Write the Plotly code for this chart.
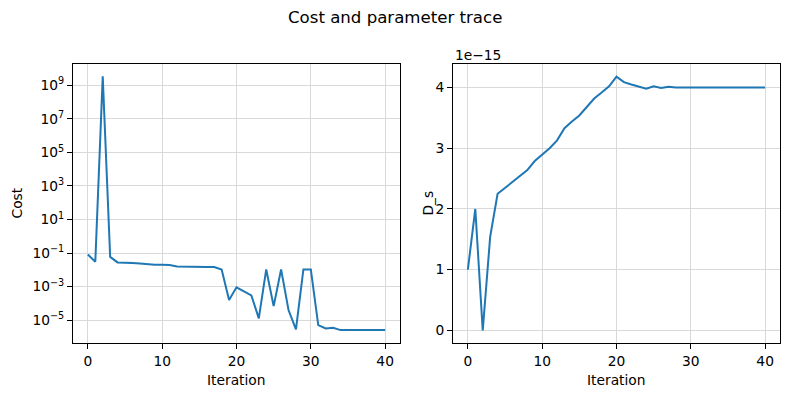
import plotly.graph_objects as go

iterations = list(range(41))
cost_log10 = [-1.09, -1.52, 9.54, -1.23, -1.56, -1.60, -1.60, -1.62, -1.68, -1.70,
              -1.70, -1.72, -1.80, -1.82, -1.84, -1.84, -1.84, -1.84, -1.98, -3.81,
              -3.05, -3.29, -3.53, -4.90, -1.98, -4.17, -1.98, -4.40, -5.56, -1.98,
              -1.98, -5.30, -5.50, -5.46, -5.60, -5.60, -5.60, -5.60, -5.60, -5.60,
              -5.60]
cost = [10 ** v for v in cost_log10]
ds_scale = 1e-15
ds_scaled = [1.00, 2.00, 0.00, 1.54, 2.25, 2.35, 2.45, 2.54, 2.64, 2.79,
             2.90, 3.00, 3.13, 3.33, 3.44, 3.54, 3.68, 3.82, 3.92, 4.02,
             4.18, 4.09, 4.05, 4.01, 3.98, 4.02, 3.995, 4.015, 4.00, 4.00,
             4.00, 4.00, 4.00, 4.00, 4.00, 4.00, 4.00, 4.00, 4.00, 4.00,
             4.00]
ds_values = [v * ds_scale for v in ds_scaled]

log_ticks = [-5, -3, -1, 1, 3, 5, 7, 9]
log_ticktext = ["10<sup>%s</sup>" % (str(t).replace("-", "\u2212")) for t in log_ticks]
xticks = [0, 10, 20, 30, 40]
ds_ticks = [0, 1, 2, 3, 4]

W, H = 789, 396
FONT = "DejaVu Sans"
BLUE = "#1f77b4"
GRID = "#d9d9d9"
TICK_SIZE = 13.8
TITLE_SIZE = 16.6

fig = go.Figure()
fig.add_trace(go.Scatter(x=iterations, y=cost, mode="lines",
                         line=dict(color=BLUE, width=2), xaxis="x", yaxis="y",
                         showlegend=False))
fig.add_trace(go.Scatter(x=iterations, y=[v / ds_scale for v in ds_values], mode="lines",
                         line=dict(color=BLUE, width=2), xaxis="x2", yaxis="y2",
                         showlegend=False))

axis_common = dict(showline=True, linecolor="black", linewidth=1, mirror=True,
                   ticks="outside", ticklen=5, tickcolor="black", tickwidth=1,
                   showgrid=True, gridcolor=GRID, gridwidth=1, zeroline=False,
                   tickfont=dict(family=FONT, size=TICK_SIZE, color="black"),
                   automargin=False)

xl0, xl1 = 73 / W, 400 / W
xr0, xr1 = 453 / W, 780 / W
yb, yt = 1 - 343 / H, 1 - 64 / H

fig.update_layout(
    width=W, height=H,
    margin=dict(l=0, r=0, t=0, b=0),
    paper_bgcolor="white", plot_bgcolor="white",
    font=dict(family=FONT, color="black"),
    xaxis=dict(domain=[xl0, xl1], range=[-2, 42], tickvals=xticks, anchor="y", **axis_common),
    yaxis=dict(domain=[yb, yt], type="log", range=[-6.37, 10.28],
               tickvals=[10 ** t for t in log_ticks], ticktext=log_ticktext,
               anchor="x", **axis_common),
    xaxis2=dict(domain=[xr0, xr1], range=[-2, 42], tickvals=xticks, anchor="y2", **axis_common),
    yaxis2=dict(domain=[yb, yt], range=[-0.209, 4.389], tickvals=ds_ticks,
                anchor="x2", **axis_common),
    annotations=[
        dict(text="Cost and parameter trace", x=0.5, y=1 - 18 / H, xref="paper", yref="paper",
             showarrow=False, xanchor="center", yanchor="middle",
             font=dict(family=FONT, size=TITLE_SIZE, color="black")),
        dict(text="Iteration", x=(xl0 + xl1) / 2, y=1 - 380 / H, xref="paper", yref="paper",
             showarrow=False, xanchor="center", yanchor="middle",
             font=dict(family=FONT, size=TICK_SIZE, color="black")),
        dict(text="Iteration", x=(xr0 + xr1) / 2, y=1 - 380 / H, xref="paper", yref="paper",
             showarrow=False, xanchor="center", yanchor="middle",
             font=dict(family=FONT, size=TICK_SIZE, color="black")),
        dict(text="Cost", x=17 / W, y=(yb + yt) / 2, xref="paper", yref="paper",
             showarrow=False, xanchor="center", yanchor="middle", textangle=-90,
             font=dict(family=FONT, size=TICK_SIZE, color="black")),
        dict(text="D_s", x=428 / W, y=(yb + yt) / 2, xref="paper", yref="paper",
             showarrow=False, xanchor="center", yanchor="middle", textangle=-90,
             font=dict(family=FONT, size=TICK_SIZE, color="black")),
        dict(text="1e\u221215", x=xr0, y=1 - 55 / H, xref="paper", yref="paper",
             showarrow=False, xanchor="left", yanchor="middle",
             font=dict(family=FONT, size=TICK_SIZE, color="black")),
    ],
)

fig.write_html("out.html", config={"displayModeBar": False})

with open("out.html", "r", encoding="utf-8") as f:
    html = f.read()
html = html.replace("<head>", "<head><style>html,body{margin:0;padding:0;overflow:hidden;}</style>", 1)
with open("out.html", "w", encoding="utf-8") as f:
    f.write(html)
